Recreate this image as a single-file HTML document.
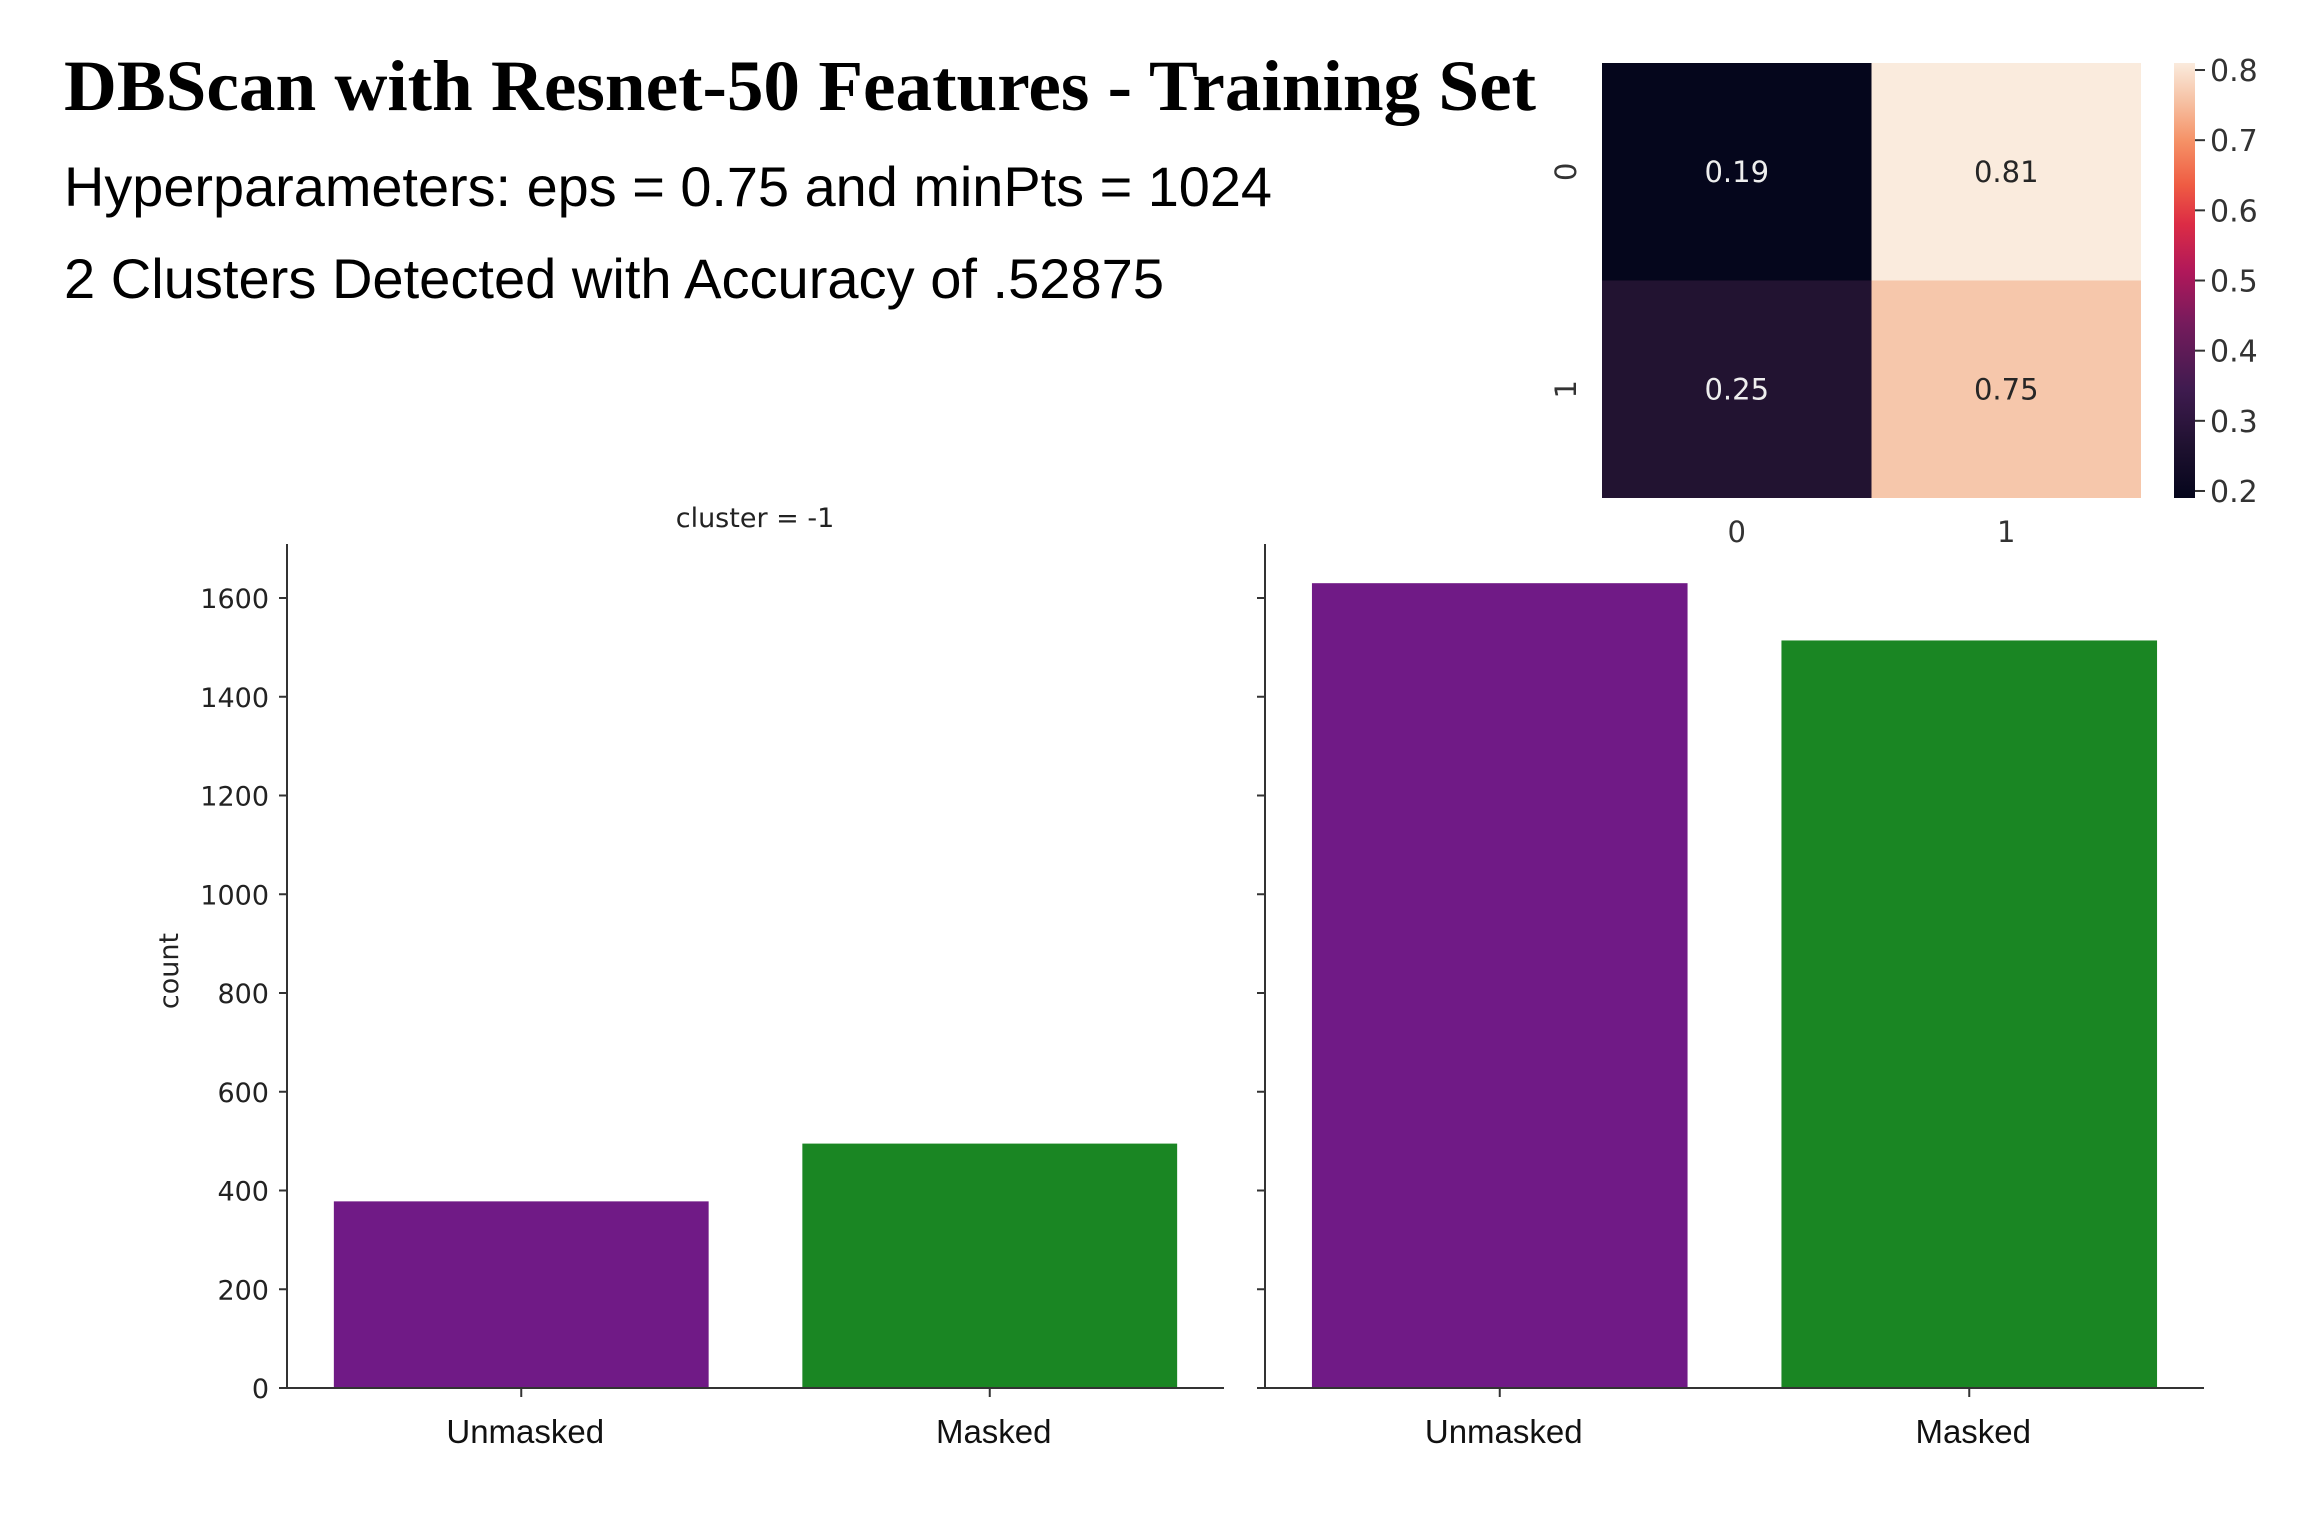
<!DOCTYPE html>
<html><head><meta charset="utf-8">
<style>
html,body{margin:0;padding:0;background:#fff;}
svg{display:block;}
</style></head>
<body>
<svg id="fig" width="2304" height="1536" viewBox="0 0 2304 1536" xmlns="http://www.w3.org/2000/svg">
<defs>
<linearGradient id="rocket" x1="0" y1="1" x2="0" y2="0">
<stop offset="0" stop-color="#05061c"/>
<stop offset="0.12" stop-color="#1f1130"/>
<stop offset="0.25" stop-color="#3f1b4f"/>
<stop offset="0.4" stop-color="#751b5c"/>
<stop offset="0.52" stop-color="#b0185a"/>
<stop offset="0.63" stop-color="#dc2c45"/>
<stop offset="0.72" stop-color="#ef5c43"/>
<stop offset="0.82" stop-color="#f59166"/>
<stop offset="0.91" stop-color="#f6c0a2"/>
<stop offset="1" stop-color="#faebdd"/>
</linearGradient>
</defs>
<text x="64" y="110" font-family="Liberation Serif, serif" font-weight="bold" font-size="72" textLength="1472" lengthAdjust="spacingAndGlyphs" fill="#000">DBScan with Resnet-50 Features  - Training Set</text>
<text x="64" y="206" font-family="Liberation Sans, sans-serif" font-size="56" textLength="1208" lengthAdjust="spacingAndGlyphs" fill="#000">Hyperparameters: eps = 0.75 and minPts = 1024</text>
<text x="64" y="298" font-family="Liberation Sans, sans-serif" font-size="56" textLength="1100" lengthAdjust="spacingAndGlyphs" fill="#000">2 Clusters Detected with Accuracy of .52875</text>
<g id="heat"></g>
<g id="bars"></g>
</svg>
<script>
const NS='http://www.w3.org/2000/svg';
const heatRows=['0','1'];
const heatCols=['0','1'];
const heatValues=[[0.19,0.81],[0.25,0.75]];
const heatColors=[['#05061c','#faebdd'],['#221331','#f6c7ab']];
const cbTicks=[0.2,0.3,0.4,0.5,0.6,0.7,0.8];
const categories=['Unmasked','Masked'];
const clusterNeg1=[378,495];
const cluster0=[1630,1514];
const yTicks=[0,200,400,600,800,1000,1200,1400,1600];
const barColors=['#701a86','#1a8623'];

function mk(tag,attrs,parent){const e=document.createElementNS(NS,tag);for(const k in attrs)e.setAttribute(k,attrs[k]);parent.appendChild(e);return e;}

// heatmap
const heat=document.getElementById('heat');
const hx0=1602,hx1=2141,hy0=63,hy1=498;
const cw=(hx1-hx0)/heatCols.length,ch=(hy1-hy0)/heatRows.length;
heatRows.forEach((r,i)=>{heatCols.forEach((c,j)=>{
  const v=heatValues[i][j];
  const rc=mk('rect',{x:hx0+j*cw,y:hy0+i*ch,width:cw,height:ch,fill:heatColors[i][j]},heat);
  
  
  const t=mk('text',{x:hx0+(j+0.5)*cw,y:hy0+(i+0.5)*ch+10,'text-anchor':'middle','font-family':'DejaVu Sans, sans-serif','font-size':29,fill:v>0.5?'#262626':'#eeeeee'},heat);
  t.textContent=v.toFixed(2);
  
  
});});
heatCols.forEach((c,j)=>{
  const t=mk('text',{x:hx0+(j+0.5)*cw,y:542,'text-anchor':'middle','font-family':'DejaVu Sans, sans-serif','font-size':29,fill:'#333'},heat);
  t.textContent=c;
  
  
});
heatRows.forEach((r,i)=>{
  const cy=hy0+(i+0.5)*ch;
  const t=mk('text',{x:0,y:0,transform:'translate(1576,'+cy+') rotate(-90)','text-anchor':'middle','font-family':'DejaVu Sans, sans-serif','font-size':29,fill:'#333'},heat);
  t.textContent=r;
  
  
});
const cbx=2174,cbw=21,cbTop=63,cbBot=498,cbMin=0.19,cbMax=0.81;
const cb=mk('rect',{x:cbx,y:cbTop,width:cbw,height:cbBot-cbTop,fill:'url(#rocket)'},heat);


const cbY=v=>cbBot-(v-cbMin)/(cbMax-cbMin)*(cbBot-cbTop);
cbTicks.forEach(v=>{
  const y=cbY(v);
  mk('line',{x1:cbx+cbw,x2:cbx+cbw+10,y1:y,y2:y,stroke:'#333','stroke-width':2},heat);
  const t=mk('text',{x:cbx+cbw+15,y:y+11,'font-family':'DejaVu Sans, sans-serif','font-size':30,fill:'#333'},heat);
  t.textContent=v.toFixed(1);
  
  
});

// bar charts
const bars=document.getElementById('bars');
const y0=1388,yPer=(1388-598)/1600,axTop=544;
const yS=v=>y0-v*yPer;
function panel(ax0,ax1,vals,name,showLabels){
  const g=mk('g',{},bars);
  
  
  const band=(ax1-ax0)/categories.length;
  vals.forEach((v,i)=>{
    const bw=band*0.8,x=ax0+band*i+band*0.1;
    const r=mk('rect',{x:x,y:yS(v),width:bw,height:y0-yS(v),fill:barColors[i]},g);
    
    
    const cx=ax0+band*(i+0.5);
    mk('line',{x1:cx,x2:cx,y1:y0,y2:y0+9,stroke:'#333','stroke-width':2},g);
    const t=mk('text',{x:cx+4,y:1443,'text-anchor':'middle','font-family':'Liberation Sans, sans-serif','font-size':33,fill:'#111'},g);
    t.textContent=categories[i];
    
    
  });
  mk('line',{x1:ax0,x2:ax0,y1:axTop,y2:y0,stroke:'#333','stroke-width':2},g);
  mk('line',{x1:ax0,x2:ax1,y1:y0,y2:y0,stroke:'#333','stroke-width':2},g);
  yTicks.forEach(v=>{
    mk('line',{x1:ax0-8,x2:ax0,y1:yS(v),y2:yS(v),stroke:'#333','stroke-width':2},g);
    if(showLabels){
      const t=mk('text',{x:ax0-18,y:yS(v)+10,'text-anchor':'end','font-family':'DejaVu Sans, sans-serif','font-size':27,fill:'#222'},g);
      t.textContent=v;
      
      
    }
  });
}
panel(287,1224,clusterNeg1,'panel-cluster-neg1',true);
panel(1265,2204,cluster0,'panel-cluster-0',false);
const yt=mk('text',{x:0,y:0,transform:'translate(178,971) rotate(-90)','text-anchor':'middle','font-family':'DejaVu Sans, sans-serif','font-size':27,fill:'#222'},bars);
yt.textContent='count';


const pt=mk('text',{x:755,y:527,'text-anchor':'middle','font-family':'DejaVu Sans, sans-serif','font-size':27,fill:'#222'},bars);
pt.textContent='cluster = -1';


</script>
</body></html>
